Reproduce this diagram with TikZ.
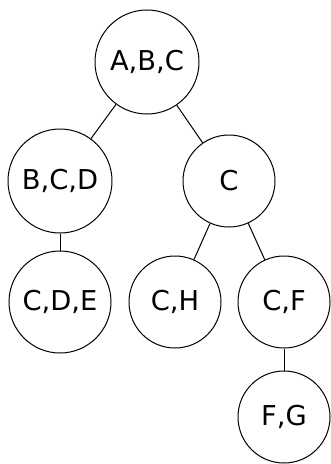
\documentclass[tikz,border=0pt]{standalone}
\usepackage{fontspec}
\setmainfont{DejaVu Sans}
\begin{document}
\begin{tikzpicture}[x=0.75pt,y=-0.75pt,
  setnode/.style={draw,circle,line width=0.75pt,inner sep=0pt,minimum size=92*0.75pt,font=\fontsize{20.5}{24}\selectfont},
  bignode/.style={setnode,minimum size=104*0.75pt},
  edge/.style={line width=0.75pt}]
\useasboundingbox (0,0) rectangle (330,464);
\node[bignode] (abc) at (147,62) {A,B,C};
\node[bignode] (bcd) at (60,181) {B,C,D};
\node[setnode] (c) at (229,181) {C};
\node[bignode,minimum size=102*0.75pt] (cde) at (60,302) {C,D,E};
\node[setnode] (ch) at (175,302) {C,H};
\node[setnode] (cf) at (284,302) {C,F};
\node[setnode] (fg) at (284,417) {F,G};
\draw[edge] (abc) -- (bcd);
\draw[edge] (abc) -- (c);
\draw[edge] (bcd) -- (cde);
\draw[edge] (c) -- (ch);
\draw[edge] (c) -- (cf);
\draw[edge] (cf) -- (fg);
\end{tikzpicture}
\end{document}
